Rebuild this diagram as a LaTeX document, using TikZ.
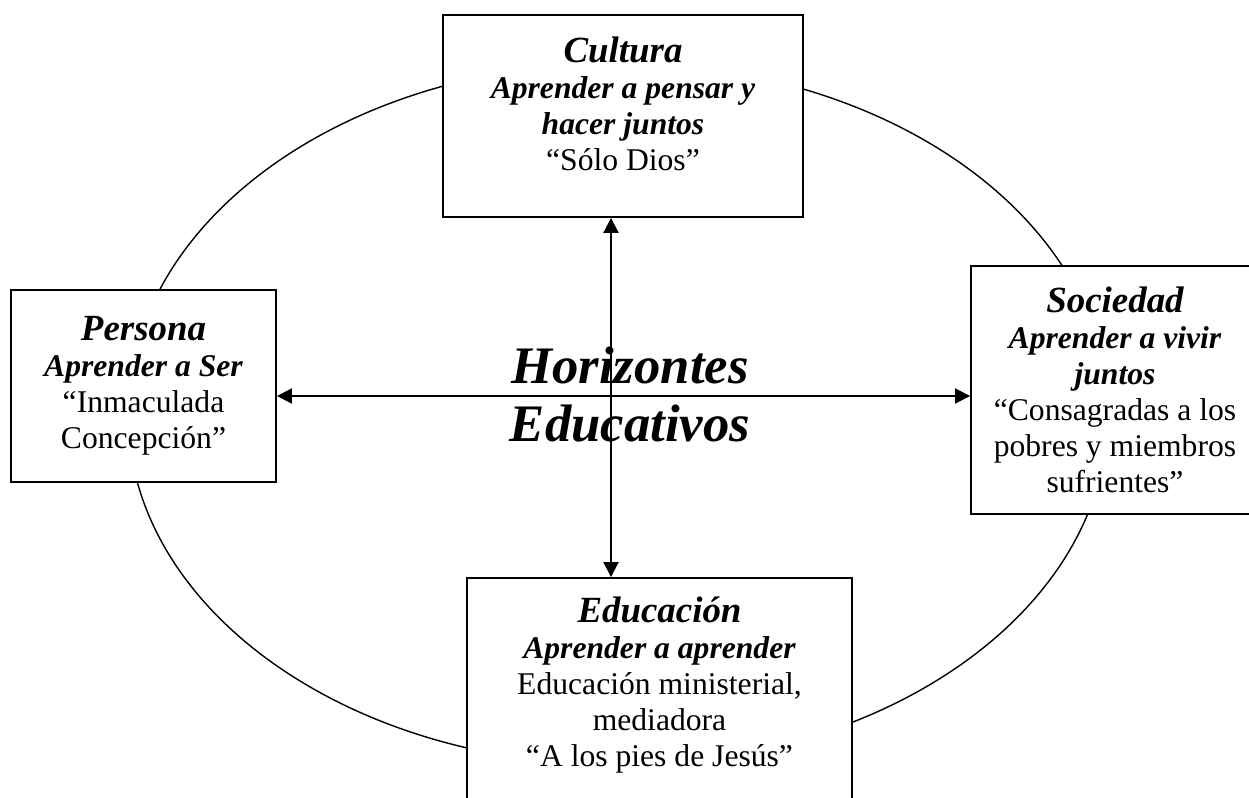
\documentclass[tikz,border=0pt]{standalone}
\usepackage{fontspec}
\setmainfont{Liberation Serif}
\usetikzlibrary{arrows.meta}

\newcommand{\titulo}[1]{{\fontsize{21}{20.5}\selectfont\bfseries\itshape #1}}
\newcommand{\lema}[1]{{\bfseries\itshape #1}}

\begin{document}
\begin{tikzpicture}[x=0.02cm,y=-0.02cm,>={Triangle[length=0.3cm,width=0.3cm]},
  caja/.style={draw=black,line width=1.1pt,fill=white,align=center,inner sep=2pt,
    font=\fontsize{18}{20.5}\selectfont},
  flecha/.style={<->,line width=1.1pt}]
  \useasboundingbox (0,0) rectangle (1249,798);

  \draw[line width=0.8pt] (618,414) ellipse [x radius=9.8cm, y radius=7.02cm];

  \node[caja,minimum width=7.2cm,minimum height=4.04cm] (cultura) at (623,116)
    {\titulo{Cultura}\\ \lema{Aprender a pensar y}\\ \lema{hacer juntos}\\ “Sólo Dios”\\[-7pt]\mbox{}};
  \node[caja,minimum width=5.3cm,minimum height=3.84cm] (persona) at (143.5,386)
    {\titulo{Persona}\\ \lema{Aprender a Ser}\\ “Inmaculada\\ Concepción”};
  \node[caja,minimum width=5.76cm,minimum height=4.96cm] (sociedad) at (1115,390)
    {\titulo{Sociedad}\\ \lema{Aprender a vivir}\\ \lema{juntos}\\ “Consagradas a los\\ pobres y miembros\\ sufrientes”};
  \node[caja,minimum width=7.7cm,minimum height=4.88cm] (educacion) at (659.5,700)
    {\titulo{Educación}\\ \lema{Aprender a aprender}\\ Educación ministerial,\\ mediadora\\ “A los pies de Jesús”\\ \mbox{}};

  \node[font=\fontsize{30}{33}\selectfont\bfseries\itshape,align=center] (centro) at (630,395)
    {Horizontes\\Educativos};

  \coordinate (cruce) at (611,396);
  \draw[flecha] (cultura.south -| cruce) -- (educacion.north -| cruce);
  \draw[flecha] (persona.east |- cruce) -- (sociedad.west |- cruce);
\end{tikzpicture}
\end{document}
